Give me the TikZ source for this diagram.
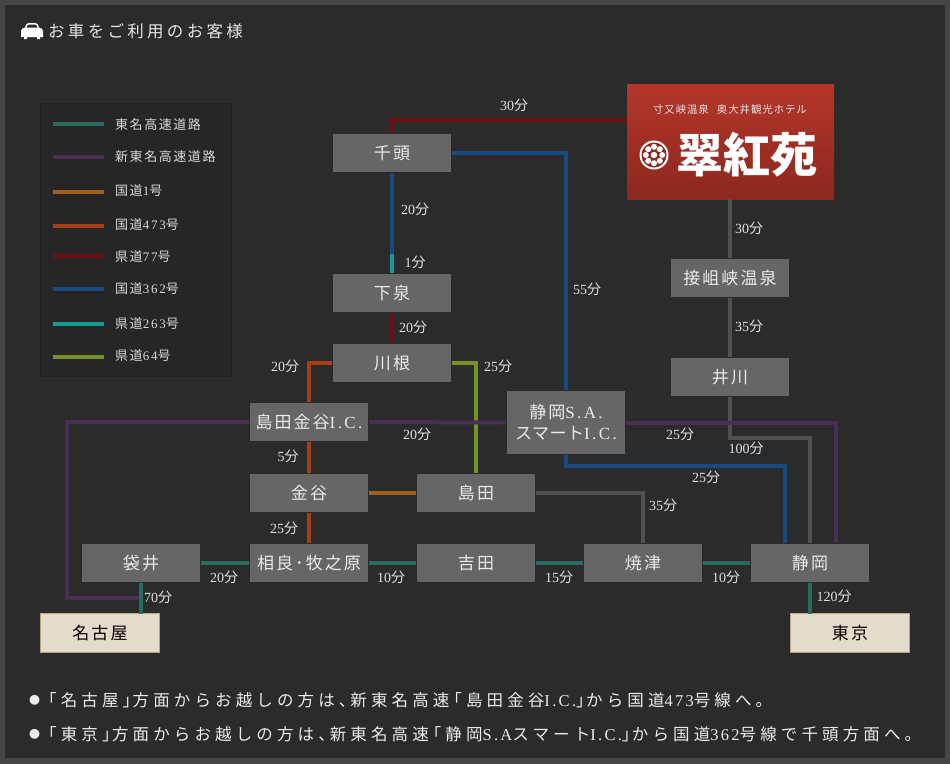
\documentclass[tikz,border=0pt]{standalone}
\usepackage{fontspec}
\setmainfont{Noto Sans CJK JP}
\newfontfamily\latinfont{Liberation Serif}
\newfontfamily\latinwide[LetterSpace=14]{Liberation Serif}
\usetikzlibrary{positioning}
\definecolor{bgframe}{HTML}{464646}
\definecolor{bgdark}{HTML}{2B2B2B}
\definecolor{legendbg}{HTML}{262626}
\definecolor{legendline}{HTML}{1F1F1F}
\definecolor{boxgrey}{HTML}{666666}
\definecolor{creambox}{HTML}{E4DCCB}
\definecolor{creamline}{HTML}{B9A67F}
\definecolor{tomei}{HTML}{2A6B5F}
\definecolor{shintomei}{HTML}{4A2F55}
\definecolor{route1}{HTML}{A0621E}
\definecolor{route473}{HTML}{A53F17}
\definecolor{route77}{HTML}{6E1015}
\definecolor{route362}{HTML}{184A80}
\definecolor{route263}{HTML}{169A97}
\definecolor{route64}{HTML}{76902A}
\definecolor{roadgrey}{HTML}{505050}
\definecolor{logotop}{HTML}{B5362A}
\definecolor{logobot}{HTML}{8C271F}
\newcommand{\lat}[1]{{\latinfont #1}}
\newcommand{\latw}[1]{{\latinwide #1}}
\newcommand{\lbr}{\hspace{-4pt}「}
\newcommand{\rbr}{」\hspace{-6.5pt}}
\newcommand{\noteball}{\raisebox{1.5pt}{\fontsize{11}{12}\selectfont ●}}
\tikzset{
  placebox/.style={fill=boxgrey, text=white!92!black, minimum width=118pt, minimum height=38pt, inner sep=0pt, outer sep=1pt, align=center, font=\fontsize{17}{21}\selectfont\addfontfeature{LetterSpace=12}},
  citybox/.style={fill=creambox, draw=creamline, text=black, minimum width=119pt, minimum height=39pt, inner sep=0pt, outer sep=0pt, font=\fontsize{17}{21}\selectfont\addfontfeature{LetterSpace=12}},
  timelabel/.style={text=white!88!black, inner sep=0pt, font=\fontsize{14}{15}\selectfont},
  legendlabel/.style={text=white!85!black, anchor=west, inner sep=0pt, font=\fontsize{13}{15}\selectfont\addfontfeature{LetterSpace=12}},
  noteline/.style={text=white!92!black, anchor=west, inner sep=0pt, font=\fontsize{16.5}{18}\selectfont\addfontfeature{LetterSpace=25}},
  road/.style={line width=4pt}
}
\begin{document}
\begin{tikzpicture}[x=1pt, y=-1pt]
  \useasboundingbox (0,0) rectangle (950,764);
  % Background
  \fill[bgframe] (0,0) rectangle (950,764);
  \fill[bgdark] (5,5) rectangle (945,758);

  % Title
  \fill[white] (21,37) -- (21,31) .. controls (21,29) and (23,28) .. (25,27.5) .. controls (26,24) and (27,23) .. (29,23) -- (35,23) .. controls (37,23) and (38,24) .. (39,27.5) .. controls (41,28) and (43,29) .. (43,31) -- (43,37) -- (40,37) -- (40,39) -- (37,39) -- (37,37) -- (27,37) -- (27,39) -- (24,39) -- (24,37) -- cycle;
  \fill[bgdark] (26.5,27.5) .. controls (27.5,25) and (28,24.5) .. (29.5,24.5) -- (34.5,24.5) .. controls (36,24.5) and (36.5,25) .. (37.5,27.5) -- cycle;
  \node[anchor=west, inner sep=0pt, text=white!90!black, font=\fontsize{16.5}{18}\selectfont\addfontfeature{LetterSpace=20}] (title) at (48,31) {お車をご利用のお客様};

  % Legend
  \node[fill=legendbg, draw=legendline, minimum width=191pt, minimum height=273pt, inner sep=0pt] (legend) at (135.5,239.5) {};
  \draw[road, tomei] (53,124) -- (104,124);
  \node[legendlabel] (legtomei) at (115,125) {東名高速道路};
  \draw[road, shintomei] (53,157) -- (104,157);
  \node[legendlabel] (legshin) at (115,157) {新東名高速道路};
  \draw[road, route1] (53,192) -- (104,192);
  \node[legendlabel] (legone) at (115,191) {国道\latw{1}号};
  \draw[road, route473] (53,226) -- (104,226);
  \node[legendlabel] (legfour) at (115,225) {国道\latw{473}号};
  \draw[road, route77] (53,256) -- (104,256);
  \node[legendlabel] (legseven) at (115,257) {県道\latw{77}号};
  \draw[road, route362] (53,289) -- (104,289);
  \node[legendlabel] (legthree) at (115,289) {国道\latw{362}号};
  \draw[road, route263] (53,324) -- (104,324);
  \node[legendlabel] (legtwo) at (115,324) {県道\latw{263}号};
  \draw[road, route64] (53,357) -- (104,357);
  \node[legendlabel] (legsix) at (115,356) {県道\latw{64}号};

  % Hotel
  \node[top color=logotop, bottom color=logobot, minimum width=207pt, minimum height=115pt, inner sep=0pt] (logo) at (730.5,141.5) {};
  \node[text=white!90!black, inner sep=0pt, font=\fontsize{10.5}{12}\selectfont\addfontfeature{LetterSpace=8}] (logosub) at (730,110) {寸又峡温泉\hspace{8pt}奥大井観光ホテル};
  \node[text=white, inner sep=0pt, font=\fontsize{47}{49}\selectfont\bfseries] (logoname) at (747,155) {翠紅苑};
  \fill[white] (654,155) circle (14.5);
  \fill[logobot] (654,155) circle (12.5);
  \fill[white] (654,155) circle (3.2);
  \foreach \ang in {0,45,...,315} \fill[white] (654,155) ++(\ang:8.2) circle (3);

  % Places
  \node[placebox] (senzu) at (392,153) {千頭};
  \node[placebox] (shimoizumi) at (392,293) {下泉};
  \node[placebox] (kawane) at (392,363) {川根};
  \node[placebox] (kanayaic) at (309,422) {島田金谷\latw{I.C.}};
  \node[placebox, minimum height=63pt] (shizuokasa) at (566,422.5) {静岡\latw{S.A.}\\{\addfontfeature{LetterSpace=3}スマート}\latw{I.C.}};
  \node[placebox] (kanaya) at (309,493) {金谷};
  \node[placebox] (shimada) at (476,493) {島田};
  \node[placebox] (fukuroi) at (141,563) {袋井};
  \node[placebox] (sagara) at (309,563) {相良･牧之原};
  \node[placebox] (yoshida) at (476,563) {吉田};
  \node[placebox] (yaizu) at (643,563) {焼津};
  \node[placebox] (shizuoka) at (810,563) {静岡};
  \node[placebox] (sessokyo) at (730,278) {接岨峡温泉};
  \node[placebox] (ikawa) at (730,377) {井川};
  \node[citybox] (nagoya) at (100,633) {名古屋};
  \node[citybox] (tokyo) at (850,633) {東京};

  % Free ends of the roads
  \coordinate (logoin) at (627,120);
  \coordinate (senzusplit) at (392,254);
  \coordinate (shinwest) at (67,598);
  \coordinate (shinend) at (141,598);
  \coordinate (shineast) at (836,543);
  \coordinate (bluecorner) at (785,466);
  \coordinate (bluein) at (785,543);
  \coordinate (greycorner) at (810,438);

  % Roads
  \draw[road, route64] (kawane.east) -| (shimada.north);
  \draw[road, roadgrey] (logo.south -| sessokyo.north) -- (sessokyo.north);
  \draw[road, roadgrey] (sessokyo.south) -- (ikawa.north);
  \draw[road, roadgrey] (ikawa.south) |- (greycorner) -- (shizuoka.north);
  \draw[road, roadgrey] (shimada.east) -| (yaizu.north);
  \draw[road, shintomei] (shinend) -- (shinwest) |- (kanayaic.west);
  \draw[road, shintomei] (kanayaic.east) -- (shizuokasa.west);
  \draw[road, shintomei] (shizuokasa.east) -| (shineast);
  \draw[road, tomei] (fukuroi.south) -- (fukuroi.south |- nagoya.north);
  \draw[road, tomei] (shizuoka.south) -- (shizuoka.south |- tokyo.north);
  \draw[road, tomei] (fukuroi) -- (sagara);
  \draw[road, tomei] (sagara) -- (yoshida);
  \draw[road, tomei] (yoshida) -- (yaizu);
  \draw[road, tomei] (yaizu) -- (shizuoka);
  \draw[road, route1] (kanaya) -- (shimada);
  \draw[road, route473] (kawane.west) -| (kanayaic.north);
  \draw[road, route473] (kanayaic) -- (kanaya);
  \draw[road, route473] (kanaya) -- (sagara);
  \draw[road, route77] (senzu.north) |- (logoin);
  \draw[road, route77] (shimoizumi) -- (kawane);
  \draw[road, route362] (senzu.east) -| (shizuokasa.north);
  \draw[road, route362] (senzu.south) -- (senzusplit);
  \draw[road, route362] (shizuokasa.south) |- (bluecorner) -- (bluein);
  \draw[road, route263] (senzusplit) -- (shimoizumi.north);

  % Times
  \node[timelabel] (tlogo) at (514,105) {\lat{30}分};
  \node[timelabel] (tsenzu) at (415,209) {\lat{20}分};
  \node[timelabel] (tsplit) at (415,262) {\lat{1}分};
  \node[timelabel] (tshimo) at (413,327) {\lat{20}分};
  \node[timelabel] (tkawaw) at (285,366) {\lat{20}分};
  \node[timelabel] (tkawae) at (498,366) {\lat{25}分};
  \node[timelabel] (tshin) at (417,434) {\lat{20}分};
  \node[timelabel] (tfive) at (288,456) {\lat{5}分};
  \node[timelabel] (tkanaya) at (284,528) {\lat{25}分};
  \node[timelabel] (tsa) at (587,289) {\lat{55}分};
  \node[timelabel] (thotel) at (749,228) {\lat{30}分};
  \node[timelabel] (tsesso) at (749,326) {\lat{35}分};
  \node[timelabel] (tshineast) at (680,434) {\lat{25}分};
  \node[timelabel] (tikawa) at (746,448) {\lat{100}分};
  \node[timelabel] (tblue) at (706,477) {\lat{25}分};
  \node[timelabel] (tshimada) at (663,505) {\lat{35}分};
  \node[timelabel] (tfukuroi) at (224,577) {\lat{20}分};
  \node[timelabel] (tsagara) at (391,577) {\lat{10}分};
  \node[timelabel] (tyoshida) at (559,577) {\lat{15}分};
  \node[timelabel] (tyaizu) at (726,577) {\lat{10}分};
  \node[timelabel] (tnagoya) at (158,597) {\lat{70}分};
  \node[timelabel] (ttokyo) at (834,596) {\lat{120}分};

  % Notes
  \node[noteline] (notenagoya) at (29,700) {\noteball「名古屋\rbr 方面からお越しの方は、\hspace{-5pt}新東名高速\lbr 島田金谷\latw{I.C.}\rbr から国道\latw{473}号線へ。};
  \node[noteline] (notetokyo) at (29,734) {\noteball「東京\rbr 方面からお越しの方は、\hspace{-5pt}新東名高速\lbr 静岡\latw{S.A}スマート\latw{I.C.}\rbr から国道\latw{362}号線で千頭方面へ。};
\end{tikzpicture}
\end{document}
